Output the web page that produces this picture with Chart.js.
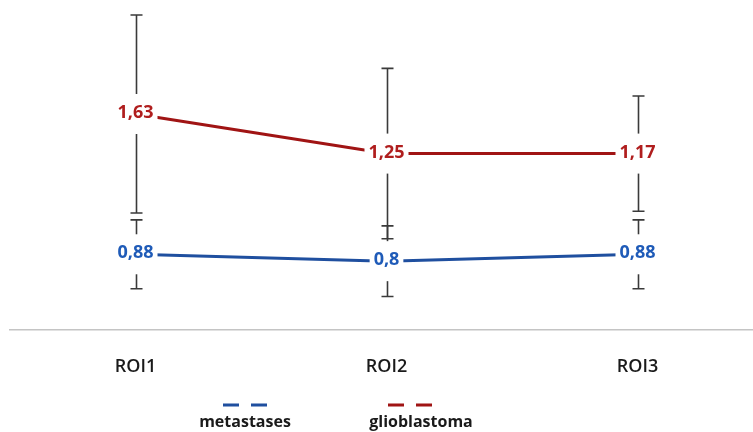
<!DOCTYPE html>
<html>
<head>
<meta charset="utf-8">
<style>
  html, body { margin: 0; padding: 0; background: #ffffff; overflow: hidden; }
  #wrap { width: 753px; height: 432px; overflow: hidden; }
  canvas { display: block; }
</style>
<script src="https://cdn.jsdelivr.net/npm/chart.js@4.4.1/dist/chart.umd.min.js"></script>
</head>
<body>
<div id="wrap"><canvas id="c" width="765" height="432"></canvas></div>
<script>
// Regions of interest
const categories = ['ROI1', 'ROI2', 'ROI3'];

// Mean values per region
const metastases = [0.88, 0.8, 0.88];
const glioblastoma = [1.63, 1.25, 1.17];

// Standard deviations (error bars)
const metastasesSD = [0.40, 0.41, 0.40];
const glioblastomaSD = [1.15, 0.99, 0.67];

const BLUE_LINE = '#1f4f9f';
const BLUE_TEXT = '#1f5bb8';
const RED_LINE = '#a01414';
const RED_TEXT = '#b01e1e';
const FONT = "'Open Sans', 'Noto Sans', sans-serif";

function formatValue(v) {
  return String(v).replace('.', ',');
}

// Error bars, value labels (on white boxes) and the legend below the axis
const decorations = {
  id: 'decorations',
  afterDatasetsDraw(chart) {
    const ctx = chart.ctx;
    const y = chart.scales.y;
    const sds = [metastasesSD, glioblastomaSD];

    // error bars
    ctx.save();
    ctx.strokeStyle = '#3a3a3a';
    ctx.lineWidth = 1.6;
    chart.data.datasets.forEach((ds, di) => {
      const meta = chart.getDatasetMeta(di);
      meta.data.forEach((pt, i) => {
        const v = y.getValueForPixel(pt.y);
        const top = y.getPixelForValue(v + sds[di][i]);
        const bot = y.getPixelForValue(v - sds[di][i]);
        const x = Math.round(pt.x) + 0.5;
        ctx.beginPath();
        ctx.moveTo(x, top); ctx.lineTo(x, bot);
        ctx.moveTo(x - 6, top); ctx.lineTo(x + 6, top);
        ctx.moveTo(x - 6, bot); ctx.lineTo(x + 6, bot);
        ctx.stroke();
      });
    });
    ctx.restore();

    // value labels
    ctx.save();
    ctx.font = 'bold 18px ' + FONT;
    ctx.textAlign = 'center';
    ctx.textBaseline = 'middle';
    chart.data.datasets.forEach((ds, di) => {
      const meta = chart.getDatasetMeta(di);
      meta.data.forEach((pt, i) => {
        const txt = formatValue(ds.data[i]);
        const w = ctx.measureText(txt).width + 8;
        ctx.fillStyle = '#ffffff';
        ctx.fillRect(pt.x - w / 2, pt.y - 20, w, 40);
        ctx.fillStyle = ds.labelColor;
        ctx.fillText(txt, pt.x, pt.y - 1);
      });
    });
    ctx.restore();

    // legend: dashed mark above each series name
    const items = [
      { text: 245, mark: 245 },
      { text: 421, mark: 410 }
    ];
    ctx.save();
    ctx.font = 'bold 16px ' + FONT;
    ctx.textAlign = 'center';
    ctx.textBaseline = 'middle';
    chart.data.datasets.forEach((ds, di) => {
      const it = items[di];
      ctx.strokeStyle = ds.borderColor;
      ctx.lineWidth = 3;
      ctx.beginPath();
      ctx.moveTo(it.mark - 22, 405); ctx.lineTo(it.mark - 6, 405);
      ctx.moveTo(it.mark + 6, 405); ctx.lineTo(it.mark + 22, 405);
      ctx.stroke();
      ctx.fillStyle = '#1a1a1a';
      ctx.fillText(ds.label, it.text, 422);
    });
    ctx.restore();
  }
};

new Chart(document.getElementById('c'), {
  type: 'line',
  data: {
    labels: categories,
    datasets: [
      {
        label: 'metastases',
        data: metastases,
        borderColor: BLUE_LINE,
        labelColor: BLUE_TEXT,
        borderWidth: 3,
        pointRadius: 0,
        fill: false,
        tension: 0
      },
      {
        label: 'glioblastoma',
        data: glioblastoma,
        borderColor: RED_LINE,
        labelColor: RED_TEXT,
        borderWidth: 3,
        pointRadius: 0,
        fill: false,
        tension: 0
      }
    ]
  },
  options: {
    responsive: false,
    animation: false,
    layout: { padding: { top: 3, left: 10, right: 2, bottom: 0 } },
    plugins: {
      legend: { display: false },
      tooltip: { enabled: false }
    },
    scales: {
      x: {
        offset: true,
        grid: { display: false },
        border: { display: true, color: '#c4c4c4', width: 1.5 },
        ticks: {
          color: '#1a1a1a',
          padding: 18,
          font: { family: FONT, size: 18, weight: '600' }
        },
        afterFit(scale) { scale.height = 102; }
      },
      y: {
        display: false,
        stacked: true,
        min: 0,
        max: 3.8
      }
    }
  },
  plugins: [decorations]
});
</script>
</body>
</html>
